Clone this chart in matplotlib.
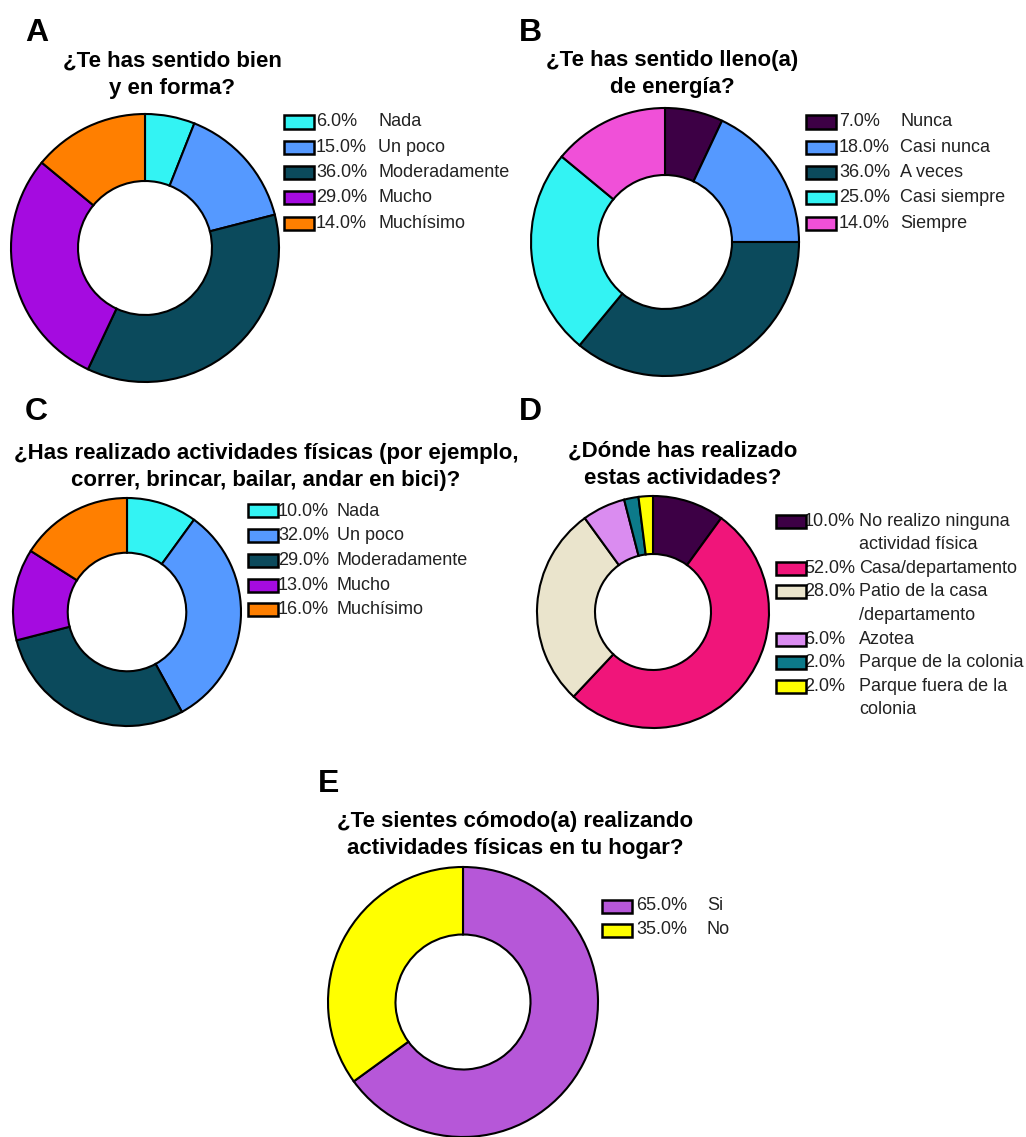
import matplotlib.pyplot as plt
from matplotlib.patches import Rectangle

W, H = 1026, 1137

# ---- data ----
a_names = ["Nada", "Un poco", "Moderadamente", "Mucho", "Muchísimo"]
a_vals = [6.0, 15.0, 36.0, 29.0, 14.0]
b_names = ["Nunca", "Casi nunca", "A veces", "Casi siempre", "Siempre"]
b_vals = [7.0, 18.0, 36.0, 25.0, 14.0]
c_names = ["Nada", "Un poco", "Moderadamente", "Mucho", "Muchísimo"]
c_vals = [10.0, 32.0, 29.0, 13.0, 16.0]
d_names = ["No realizo ninguna\nactividad física", "Casa/departamento",
           "Patio de la casa\n/departamento", "Azotea",
           "Parque de la colonia", "Parque fuera de la\ncolonia"]
d_vals = [10.0, 52.0, 28.0, 6.0, 2.0, 2.0]
e_names = ["Si", "No"]
e_vals = [65.0, 35.0]

cyan, blue, teal, purple, orange = "#33F3F3", "#5599FF", "#0B4A5C", "#A50BE0", "#FF7F00"
a_colors = [cyan, blue, teal, purple, orange]
b_colors = ["#3D0045", blue, teal, cyan, "#F050D8"]
c_colors = a_colors
d_colors = ["#3D0045", "#F0157A", "#EAE4CC", "#DA8CF0", "#0C7A8A", "#FFFF00"]
e_colors = ["#B657D8", "#FFFF00"]

plt.rcParams["font.family"] = ["Liberation Sans", "DejaVu Sans"]
fig = plt.figure(figsize=(W / 100, H / 100), dpi=100)


def fx(x):
    return x / W


def fy(y):
    return 1 - y / H


def donut(cx, cy, r, vals, colors, width=0.5):
    ax = fig.add_axes([fx(cx - r), fy(cy + r), 2 * r / W, 2 * r / H])
    wedges, _ = ax.pie(vals, colors=colors, startangle=90, counterclock=False,
                       wedgeprops=dict(width=width, edgecolor="black", linewidth=1.5))
    for w in wedges:
        w.set_clip_on(False)
    ax.set_xlim(-1, 1)
    ax.set_ylim(-1, 1)
    ax.set_aspect("equal")
    ax.axis("off")


def legend(xbox, xpct, xname, y0, step, vals, names, colors):
    row = 0
    for v, n, c in zip(vals, names, colors):
        y = y0 + row * step
        fig.patches.append(Rectangle((fx(xbox), fy(y + 6.5)), 30 / W, 13 / H, facecolor=c,
                                     edgecolor="black", linewidth=1.8,
                                     transform=fig.transFigure, figure=fig, zorder=5))
        fig.text(fx(xpct), fy(y), f"{v:.1f}%", va="center", ha="left",
                 fontsize=13, color="#222222")
        for i, line in enumerate(n.split("\n")):
            fig.text(fx(xname), fy(y + i * step), line, va="center", ha="left",
                     fontsize=13, color="#222222")
        row += len(n.split("\n"))


def title(x, y, s):
    fig.text(fx(x), fy(y), s, ha="center", va="center", multialignment="center",
             fontsize=16, fontweight="bold", linespacing=1.4)


def letter(x, y, s):
    fig.text(fx(x), fy(y), s, ha="left", va="baseline", fontsize=23, fontweight="bold")


# A
letter(25, 41, "A")
title(172, 75, "¿Te has sentido bien\ny en forma?")
donut(145, 248, 134, a_vals, a_colors)
legend(284, 316, 378, 122, 25.3, a_vals, a_names, a_colors)

# B
letter(519, 41, "B")
title(672, 74, "¿Te has sentido lleno(a)\nde energía?")
donut(665, 242, 134, b_vals, b_colors)
legend(806, 839, 900, 122, 25.3, b_vals, b_names, b_colors)

# C
letter(25, 420, "C")
title(266, 467, "¿Has realizado actividades físicas (por ejemplo,\ncorrer, brincar, bailar, andar en bici)?")
donut(127, 612, 114, c_vals, c_colors, width=0.48)
legend(248, 278, 337, 511, 24.7, c_vals, c_names, c_colors)

# D
letter(519, 420, "D")
title(683, 465, "¿Dónde has realizado\nestas actividades?")
donut(653, 612, 116, d_vals, d_colors)
legend(776, 804, 859, 521, 23.6, d_vals, d_names, d_colors)

# E
letter(318, 792, "E")
title(515, 835, "¿Te sientes cómodo(a) realizando\nactividades físicas en tu hogar?")
donut(463, 1002, 135, e_vals, e_colors)
legend(602, 636, 707, 906, 24, e_vals, e_names, e_colors)

fig.savefig("out.png", dpi=100)
